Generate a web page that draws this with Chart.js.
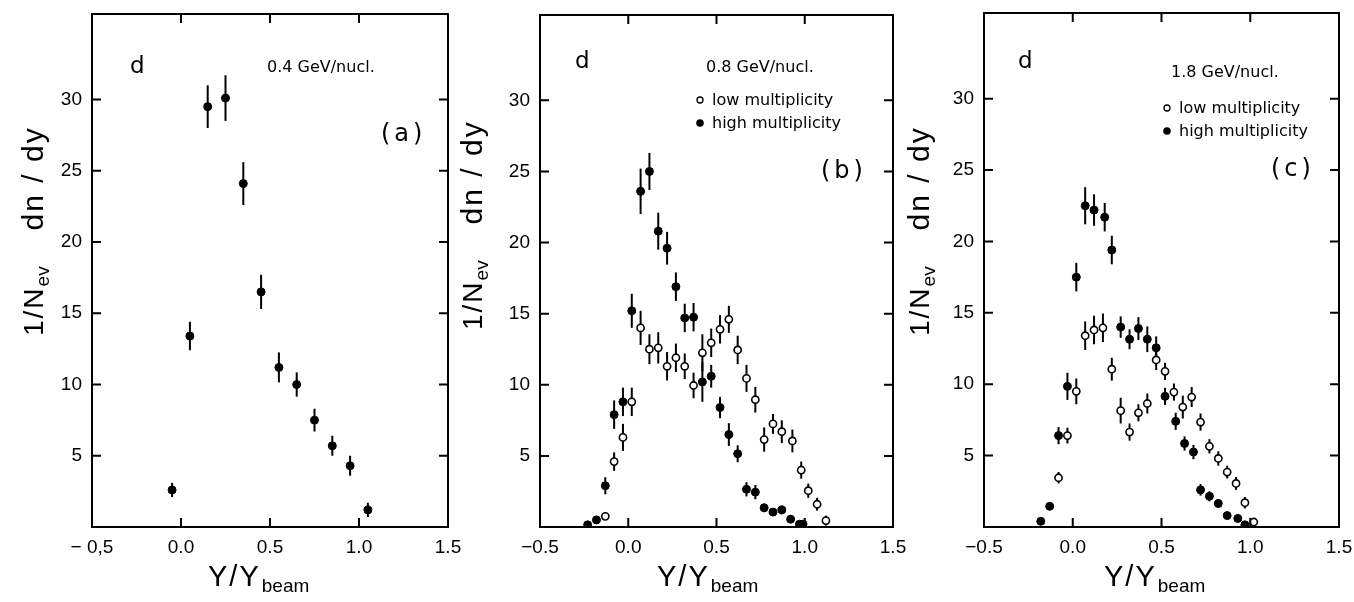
<!DOCTYPE html>
<html>
<head>
<meta charset="utf-8">
<script src="https://cdn.jsdelivr.net/npm/chart.js@4.4.1/dist/chart.umd.min.js"></script>
<style>
body { margin: 0; background: #fff; }
#wrap { position: relative; width: 1354px; height: 602px; }
canvas { position: absolute; left: 0; top: 0; }
</style>
</head>
<body>
<div id="wrap">
	<canvas id="chartA" width="1354" height="602"></canvas>
	<canvas id="chartB" width="1354" height="602"></canvas>
	<canvas id="chartC" width="1354" height="602"></canvas>
</div>
<script>
// tick values and labels
var xTicks = [-0.5, 0, 0.5, 1.0, 1.5];
var xLabelsA = ["\u2212 0,5", "0.0", "0.5", "1.0", "1.5"];
var xLabelsBC = ["\u22120.5", "0.0", "0.5", "1.0", "1.5"];
var yTicks = [5, 10, 15, 20, 25, 30];

// (a) 0.4 GeV/nucl.
var aX = [-0.05, 0.05, 0.15, 0.25, 0.35, 0.45, 0.55, 0.65, 0.75, 0.85, 0.95, 1.05];
var aY = [2.6, 13.4, 29.5, 30.1, 24.1, 16.5, 11.2, 10.0, 7.5, 5.7, 4.3, 1.2];
var aErr = [0.5, 1.0, 1.5, 1.6, 1.5, 1.2, 1.05, 0.85, 0.8, 0.7, 0.7, 0.5];

// (b) 0.8 GeV/nucl.
var bHighX = [-0.23, -0.18, -0.13, -0.08, -0.03, 0.02, 0.07, 0.12, 0.17, 0.22, 0.27, 0.32, 0.37, 0.42, 0.47, 0.52, 0.57, 0.62, 0.67, 0.72, 0.77, 0.82, 0.87, 0.92, 0.97, 0.99];
var bHighY = [0.15, 0.5, 2.9, 7.9, 8.8, 15.2, 23.6, 25.0, 20.8, 19.6, 16.9, 14.7, 14.75, 10.2, 10.6, 8.4, 6.5, 5.15, 2.65, 2.45, 1.35, 1.05, 1.2, 0.55, 0.2, 0.2];
var bHighErr = [0, 0, 0.6, 1.0, 1.0, 1.2, 1.6, 1.3, 1.3, 1.15, 1.0, 1.0, 1.0, 1.4, 0.8, 0.75, 0.8, 0.6, 0.5, 0.5, 0.3, 0.25, 0.3, 0.25, 0, 0];
var bLowX = [-0.13, -0.08, -0.03, 0.02, 0.07, 0.12, 0.17, 0.22, 0.27, 0.32, 0.37, 0.42, 0.47, 0.52, 0.57, 0.62, 0.67, 0.72, 0.77, 0.82, 0.87, 0.93, 0.98, 1.02, 1.07, 1.12];
var bLowY = [0.75, 4.6, 6.3, 8.8, 14.0, 12.5, 12.6, 11.3, 11.9, 11.3, 9.95, 12.25, 12.95, 13.9, 14.6, 12.45, 10.45, 8.95, 6.15, 7.25, 6.7, 6.05, 4.0, 2.55, 1.6, 0.45];
var bLowErr = [0, 0.65, 0.95, 1.0, 1.2, 1.05, 1.1, 1.0, 1.0, 0.9, 0.9, 1.3, 1.0, 1.0, 0.95, 1.0, 0.95, 0.9, 0.85, 0.7, 0.8, 0.8, 0.6, 0.5, 0.45, 0.35];

// (c) 1.8 GeV/nucl.
var cHighX = [-0.18, -0.13, -0.08, -0.03, 0.02, 0.07, 0.12, 0.18, 0.22, 0.27, 0.32, 0.37, 0.42, 0.47, 0.52, 0.58, 0.63, 0.68, 0.72, 0.77, 0.82, 0.87, 0.93, 0.97];
var cHighY = [0.4, 1.45, 6.4, 9.85, 17.5, 22.5, 22.2, 21.7, 19.4, 14.0, 13.15, 13.9, 13.15, 12.55, 9.15, 7.4, 5.85, 5.25, 2.6, 2.15, 1.65, 0.8, 0.6, 0.15];
var cHighErr = [0, 0, 0.6, 0.95, 1.0, 1.3, 1.1, 1.0, 1.0, 0.75, 0.7, 0.8, 0.9, 0.8, 0.6, 0.6, 0.5, 0.5, 0.4, 0.35, 0.3, 0, 0, 0];
var cLowX = [-0.08, -0.03, 0.02, 0.07, 0.12, 0.17, 0.22, 0.27, 0.32, 0.37, 0.42, 0.47, 0.52, 0.57, 0.62, 0.67, 0.72, 0.77, 0.82, 0.87, 0.92, 0.97, 1.02];
var cLowY = [3.45, 6.4, 9.5, 13.4, 13.8, 13.95, 11.05, 8.15, 6.65, 8.0, 8.65, 11.7, 10.9, 9.45, 8.4, 9.1, 7.35, 5.65, 4.8, 3.85, 3.05, 1.7, 0.35];
var cLowErr = [0.4, 0.55, 0.9, 1.0, 1.0, 1.0, 0.8, 0.9, 0.6, 0.6, 0.7, 0.7, 0.6, 0.6, 0.8, 0.7, 0.6, 0.5, 0.5, 0.45, 0.45, 0.4, 0];

var TXT = "DejaVu Sans";
var NUM = "Liberation Sans";

function punkte(xs, ys) {
	var out = [];
	for (var i = 0; i < xs.length; i++) {
		out.push({ x: xs[i], y: ys[i] });
	}
	return out;
}

function serie(xs, ys, errs, offen) {
	return {
		data: punkte(xs, ys),
		errors: errs,
		pointRadius: offen ? 3.6 : 4,
		pointStyle: 'circle',
		backgroundColor: offen ? '#fff' : '#000',
		borderColor: '#000',
		borderWidth: offen ? 1.6 : 1,
		showLine: false
	};
}

// error bars, frame, inward ticks and all texts
var paperPlugin = {
	id: 'paper',
	beforeDatasetsDraw: function(chart) {
		var ctx = chart.ctx, xs = chart.scales.x, ys = chart.scales.y;
		ctx.save();
		ctx.strokeStyle = '#000';
		ctx.lineWidth = 2;
		chart.data.datasets.forEach(function(ds) {
			ds.data.forEach(function(p, i) {
				var e = ds.errors[i];
				if (!e) return;
				var px = xs.getPixelForValue(p.x);
				ctx.beginPath();
				ctx.moveTo(px, ys.getPixelForValue(p.y - e));
				ctx.lineTo(px, ys.getPixelForValue(p.y + e));
				ctx.stroke();
			});
		});
		ctx.restore();
	},
	afterDraw: function(chart, args, o) {
		var ctx = chart.ctx, a = chart.chartArea;
		var xs = chart.scales.x, ys = chart.scales.y;
		ctx.save();
		ctx.strokeStyle = '#000';
		ctx.lineWidth = 2;
		ctx.strokeRect(a.left, a.top, a.right - a.left, a.bottom - a.top);
		ctx.beginPath();
		xTicks.forEach(function(v) {
			if (v <= -0.5 || v >= 1.5) return;
			var px = xs.getPixelForValue(v);
			ctx.moveTo(px, a.bottom); ctx.lineTo(px, a.bottom - 9);
			ctx.moveTo(px, a.top); ctx.lineTo(px, a.top + 9);
		});
		yTicks.forEach(function(v) {
			var py = ys.getPixelForValue(v);
			ctx.moveTo(a.left, py); ctx.lineTo(a.left + 9, py);
			ctx.moveTo(a.right, py); ctx.lineTo(a.right - 9, py);
		});
		ctx.stroke();

		ctx.fillStyle = '#000';
		ctx.textBaseline = 'alphabetic';
		ctx.font = '23px ' + TXT;
		ctx.fillText('d', o.d[0], o.d[1]);
		ctx.font = '16px ' + TXT;
		ctx.fillText(o.energy, o.e[0], o.e[1]);
		if (o.legend) {
			ctx.fillText('low multiplicity', o.lg[0] + 12, o.lg[1]);
			ctx.fillText('high multiplicity', o.lg[0] + 12, o.lg[1] + 23);
			ctx.lineWidth = 1.3;
			ctx.beginPath();
			ctx.arc(o.lg[0], o.lg[1] - 5, 3, 0, Math.PI * 2);
			ctx.stroke();
			ctx.beginPath();
			ctx.arc(o.lg[0], o.lg[1] + 18, 3.8, 0, Math.PI * 2);
			ctx.fill();
		}
		ctx.font = '24px ' + TXT;
		ctx.letterSpacing = '4px';
		ctx.fillText(o.letter, o.l[0], o.l[1]);
		ctx.letterSpacing = '0px';

		// x title Y/Y_beam
		ctx.font = '29px ' + NUM;
		ctx.letterSpacing = '2px';
		ctx.fillText('Y/Y', o.xt[0], o.xt[1]);
		var w = ctx.measureText('Y/Y').width;
		ctx.letterSpacing = '0px';
		ctx.font = '19px ' + NUM;
		ctx.fillText('beam', o.xt[0] + w + 1, o.xt[1] + 6);

		// y title 1/N_ev dn / dy
		ctx.translate(o.yt[0], o.yt[1]);
		ctx.rotate(-Math.PI / 2);
		ctx.font = '28px ' + NUM;
		ctx.letterSpacing = '2px';
		ctx.fillText('1/N', 0, 0);
		var w1 = ctx.measureText('1/N').width;
		ctx.font = '19px ' + NUM;
		ctx.letterSpacing = '0px';
		ctx.fillText('ev', w1, 6);
		ctx.font = '30px ' + NUM;
		ctx.letterSpacing = '2px';
		ctx.fillText('dn / dy', w1 + 56, 0);
		ctx.restore();
	}
};

function zeichne(id, box, xLabels, datasets, txt) {
	var ctx = document.getElementById(id).getContext('2d');
	return new Chart(ctx, {
		type: 'scatter',
		data: { datasets: datasets },
		plugins: [paperPlugin],
		options: {
			responsive: false,
			animation: false,
			devicePixelRatio: 1,
			layout: {
				padding: { left: box.left - 60, right: 1354 - box.right, top: box.top, bottom: 0 }
			},
			plugins: {
				legend: { display: false },
				tooltip: { enabled: false },
				paper: txt
			},
			scales: {
				x: {
					type: 'linear',
					min: -0.5,
					max: 1.5,
					grid: { display: false, drawTicks: false },
					border: { display: false },
					afterBuildTicks: function(s) {
						s.ticks = xTicks.map(function(v) { return { value: v }; });
					},
					afterFit: function(s) {
						s.height = 602 - box.bottom;
						s.paddingLeft = 0;
						s.paddingRight = 0;
					},
					ticks: {
						autoSkip: false,
						maxRotation: 0,
						padding: 9,
						color: '#000',
						font: { family: NUM, size: 19 },
						callback: function(v, i) { return xLabels[i]; }
					}
				},
				y: {
					min: 0,
					max: 36,
					grid: { display: false, drawTicks: false },
					border: { display: false },
					afterBuildTicks: function(s) {
						s.ticks = yTicks.map(function(v) { return { value: v }; });
					},
					afterFit: function(s) {
						s.width = 60;
						s.paddingTop = 0;
						s.paddingBottom = 0;
					},
					ticks: {
						padding: 10,
						color: '#000',
						font: { family: NUM, size: 19 },
						callback: function(v) { return String(v); }
					}
				}
			}
		}
	});
}

zeichne('chartA', { left: 92, right: 448, top: 14, bottom: 527 }, xLabelsA,
	[serie(aX, aY, aErr, false)],
	{ energy: '0.4 GeV/nucl.', letter: '(a)', legend: false,
	  d: [130, 73], e: [267, 72], l: [381, 141], xt: [208, 586], yt: [43, 336] });

zeichne('chartB', { left: 540, right: 893, top: 15, bottom: 527 }, xLabelsBC,
	[serie(bLowX, bLowY, bLowErr, true), serie(bHighX, bHighY, bHighErr, false)],
	{ energy: '0.8 GeV/nucl.', letter: '(b)', legend: true, lg: [700, 105],
	  d: [575, 68], e: [706, 72], l: [821, 178], xt: [657, 586], yt: [482, 330] });

zeichne('chartC', { left: 984, right: 1339, top: 13, bottom: 527 }, xLabelsBC,
	[serie(cLowX, cLowY, cLowErr, true), serie(cHighX, cHighY, cHighErr, false)],
	{ energy: '1.8 GeV/nucl.', letter: '(c)', legend: true, lg: [1167, 113],
	  d: [1018, 68], e: [1171, 77], l: [1271, 176], xt: [1104, 586], yt: [929, 336] });
</script>
</body>
</html>
